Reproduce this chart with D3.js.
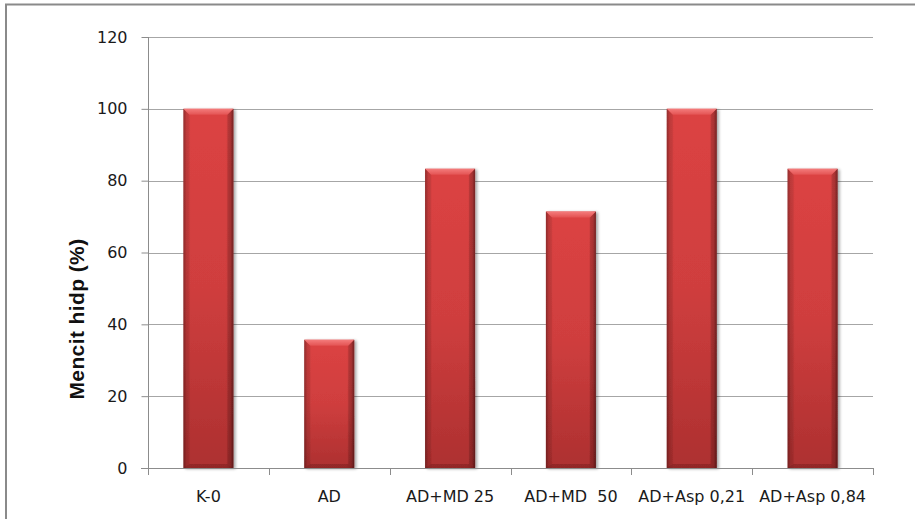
<!DOCTYPE html>
<html><head><meta charset="utf-8">
<script src="https://cdn.jsdelivr.net/npm/d3@7"></script>
<style>body{margin:0;background:#fff}svg{display:block}</style>
</head><body>
<script>
const categories = ["K-0","AD","AD+MD 25","AD+MD  50","AD+Asp 0,21","AD+Asp 0,84"];
const values = [100, 35.7, 83.3, 71.4, 100, 83.3];
const yTicks = [0,20,40,60,80,100,120];
const yTitle = "Mencit hidp (%)";

const W = 915, H = 519;
const svg = d3.select("body").append("svg").attr("width", W).attr("height", H);
const defs = svg.append("defs");

// outer frame (clipped on right/bottom)
svg.append("rect").attr("x",6).attr("y",4.5).attr("width",1000).attr("height",1000)
  .attr("fill","#fff").attr("stroke","#8a8a8a").attr("stroke-width",2);

const pL = 148, pR = 873, pT = 37, pB = 468;
const x = d3.scaleBand().domain(categories).range([pL, pR]).paddingInner(0.586).paddingOuter(0.293);
const y = d3.scaleLinear().domain([0,120]).range([pB, pT]);

// gradients
const gv = defs.append("linearGradient").attr("id","gv").attr("x1",0).attr("y1",0).attr("x2",0).attr("y2",1);
gv.append("stop").attr("offset","0%").attr("stop-color","#dc4343");
gv.append("stop").attr("offset","50%").attr("stop-color","#cf3e3e");
gv.append("stop").attr("offset","100%").attr("stop-color","#ad3030");
const gh = defs.append("linearGradient").attr("id","gh").attr("x1",0).attr("y1",0).attr("x2",1).attr("y2",0);
gh.append("stop").attr("offset","0%").attr("stop-color","#000").attr("stop-opacity",0.30);
gh.append("stop").attr("offset","6%").attr("stop-color","#000").attr("stop-opacity",0.08);
gh.append("stop").attr("offset","15%").attr("stop-color","#000").attr("stop-opacity",0);
gh.append("stop").attr("offset","85%").attr("stop-color","#000").attr("stop-opacity",0);
gh.append("stop").attr("offset","94%").attr("stop-color","#000").attr("stop-opacity",0.12);
gh.append("stop").attr("offset","100%").attr("stop-color","#000").attr("stop-opacity",0.40);
const gt = defs.append("linearGradient").attr("id","gt").attr("x1",0).attr("y1",0).attr("x2",0).attr("y2",1);
gt.append("stop").attr("offset","0%").attr("stop-color","#f47c7c");
gt.append("stop").attr("offset","100%").attr("stop-color","#e35252");
const sh = defs.append("filter").attr("id","sh").attr("x","-20%").attr("y","-5%").attr("width","150%").attr("height","115%");
sh.append("feGaussianBlur").attr("in","SourceAlpha").attr("stdDeviation",1.5);
sh.append("feOffset").attr("dx",2).attr("dy",1).attr("result","o");
sh.append("feComponentTransfer").append("feFuncA").attr("type","linear").attr("slope",0.35);
const m = sh.append("feMerge"); m.append("feMergeNode"); m.append("feMergeNode").attr("in","SourceGraphic");

// gridlines
svg.append("g").selectAll("line").data(yTicks.filter(d=>d>0)).join("line")
  .attr("x1",pL).attr("x2",pR).attr("y1",d=>Math.round(y(d))+0.5).attr("y2",d=>Math.round(y(d))+0.5)
  .attr("stroke","#a6a6a6").attr("stroke-width",1);

// y axis
const ya = svg.append("g").attr("transform",`translate(${pL+0.5},0)`)
  .call(d3.axisLeft(y).tickValues(yTicks).tickSize(7).tickPadding(14));
ya.select(".domain").attr("stroke","#8c8c8c").attr("d",`M0,${pT}V${pB}`);
ya.selectAll(".tick line").attr("stroke","#8c8c8c");
ya.selectAll(".tick text").attr("font-family","DejaVu Sans, Verdana, sans-serif").attr("font-size",16).attr("fill","#1a1a1a");

// bars
const bars = svg.append("g").selectAll("g").data(categories.map((c,i)=>({c,v:values[i]}))).join("g")
  .attr("filter","url(#sh)");
bars.append("rect").attr("x",d=>x(d.c)).attr("y",d=>y(d.v)).attr("width",x.bandwidth()).attr("height",d=>pB-y(d.v))
  .attr("fill","url(#gv)");
bars.append("rect").attr("x",d=>x(d.c)).attr("y",d=>y(d.v)).attr("width",x.bandwidth()).attr("height",d=>pB-y(d.v))
  .attr("fill","url(#gh)");
const bev = 6;
bars.append("path").attr("d",d=>{const x0=x(d.c),x1=x0+x.bandwidth(),y0=y(d.v);
  return `M${x0},${y0}H${x1}L${x1-bev},${y0+bev}H${x0+bev}Z`;}).attr("fill","url(#gt)");
bars.append("path").attr("d",d=>{const x0=x(d.c),y0=y(d.v);
  return `M${x0},${y0}L${x0+bev},${y0+bev}V${pB-4}L${x0},${pB}Z`;}).attr("fill","#000").attr("opacity",0.06);
bars.append("path").attr("d",d=>{const x0=x(d.c),x1=x0+x.bandwidth();
  return `M${x0},${pB}L${x0+bev},${pB-4}H${x1-bev}L${x1},${pB}Z`;}).attr("fill","#000").attr("opacity",0.15);
bars.append("path").attr("d",d=>{const x0=x(d.c),x1=x0+x.bandwidth(),y0=y(d.v);
  return `M${x1},${y0}L${x1-bev},${y0+bev}V${pB-4}L${x1},${pB}Z`;}).attr("fill","#000").attr("opacity",0.12);

// x axis
const xa = svg.append("g").attr("transform",`translate(0,${pB+0.5})`)
  .call(d3.axisBottom(x).tickSize(0).tickPadding(22));
xa.select(".domain").attr("stroke","#8c8c8c").attr("d",`M${pL-7},0H${pR}`);
xa.selectAll(".tick text").attr("font-family","DejaVu Sans, Verdana, sans-serif").attr("font-size",16).attr("fill","#1a1a1a")
  .style("white-space","pre");
const bounds = [0,1,2,3,4,5,6].map(i=> i<6 ? x(categories[i]) - x.step()*x.paddingOuter() : pR);
svg.append("g").selectAll("line").data(bounds).join("line")
  .attr("x1",d=>Math.round(d)+0.5).attr("x2",d=>Math.round(d)+0.5).attr("y1",pB).attr("y2",pB+7)
  .attr("stroke","#8c8c8c");

// y title
svg.append("text").attr("transform","translate(84,319) rotate(-90)").attr("text-anchor","middle")
  .attr("font-family","Liberation Sans, Arial, sans-serif").attr("font-weight","bold").attr("font-size",21)
  .attr("letter-spacing",0.4).attr("fill","#111").text(yTitle);
</script>
</body></html>
